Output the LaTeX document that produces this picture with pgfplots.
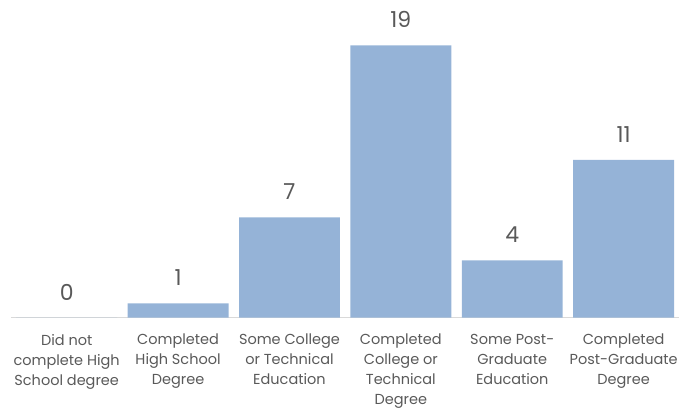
\documentclass[border=0pt]{standalone}
\usepackage{pgfplots}
\pgfplotsset{compat=1.18}
\usepackage{fontspec}
\setmainfont{Poppins}
\definecolor{barblue}{HTML}{95B3D7}
\definecolor{txtgray}{HTML}{595959}
\definecolor{basegray}{HTML}{D9D9D9}
\begin{document}
\begin{tikzpicture}
\begin{axis}[
  scale only axis,
  width=669pt, height=287pt,
  xmin=-0.5, xmax=5.5, ymin=0, ymax=20,
  hide y axis,
  axis x line*=bottom,
  x axis line style={basegray, line width=1.2pt},
  major tick length=0pt,
  clip=false,
  ybar, bar width=101pt,
  xtick=data,
  xticklabels={{Did not\\complete High\\School degree},{Completed\\High School\\Degree},{Some College\\or Technical\\Education},{Completed\\College or\\Technical\\Degree},{Some Post-\\Graduate\\Education},{Completed\\Post-Graduate\\Degree}},
  xticklabel style={align=center, font=\fontsize{14.5}{20}\selectfont, text=txtgray, yshift=-13pt},
  nodes near coords,
  every node near coord/.append style={font=\fontsize{22}{26}\selectfont, text=txtgray, yshift=14pt},
  /pgf/number format/assume math mode=true,
]
\addplot[fill=barblue, draw=none] coordinates {(0,0) (1,1) (2,7) (3,19) (4,4) (5,11)};
\end{axis}
\path ([xshift=-11pt,yshift=-97pt]current axis.south west) rectangle ([xshift=1pt,yshift=31pt]current axis.north east);
\end{tikzpicture}
\end{document}
